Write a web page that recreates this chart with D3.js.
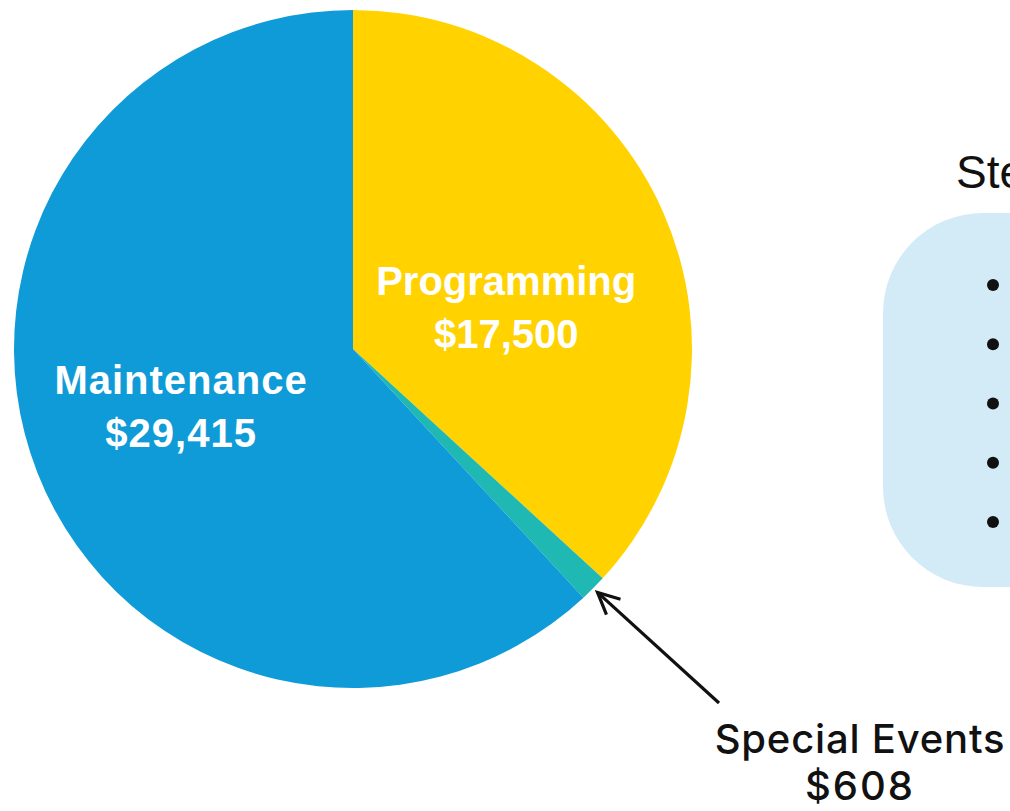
<!DOCTYPE html>
<html>
<head>
<meta charset="utf-8">
<script src="https://cdn.jsdelivr.net/npm/d3@7"></script>
<style>
  body { margin: 0; background: #fff; overflow: hidden; }
  svg { display: block; }
</style>
</head>
<body>
<div id="chart"></div>
<script>
// budget slices, clockwise from 12 o'clock
const categories = ['Programming', 'Special Events', 'Maintenance'];
const amounts = [17500, 608, 29415];
const sliceColors = ['#FFD200', '#1FB8B2', '#0F9BD7'];
const bullets = ['', '', '', '', ''];
const panelTitle = 'Stewardship';

const width = 1010, height = 811;
const cx = 353, cy = 349, r = 339;

const svg = d3.select('#chart').append('svg')
  .attr('width', width)
  .attr('height', height);

const data = categories.map((c, i) => ({ name: c, value: amounts[i], color: sliceColors[i] }));

const pie = d3.pie().sort(null).value(d => d.value);
const arcs = pie(data);
const arc = d3.arc().innerRadius(0).outerRadius(r);
const labelArc = d3.arc().innerRadius(175).outerRadius(175);
const fmt = d3.format('$,');

const g = svg.append('g').attr('transform', `translate(${cx},${cy})`);

g.selectAll('path.slice')
  .data(arcs)
  .enter().append('path')
  .attr('class', 'slice')
  .attr('d', arc)
  .attr('fill', d => d.data.color);

// white labels inside the two large slices
const nudge = { 'Programming': [-7, 28], 'Maintenance': [-9, -7] };
arcs.filter(d => nudge[d.data.name]).forEach(d => {
  const c = labelArc.centroid(d);
  const x = c[0] + nudge[d.data.name][0];
  const y = c[1] + nudge[d.data.name][1];
  const t = g.append('text')
    .attr('text-anchor', 'middle')
    .attr('fill', '#fff')
    .style('font-family', '"Liberation Sans", Arial, sans-serif')
    .style('font-weight', 700)
    .style('font-size', '40px')
    .style('letter-spacing', d.data.name === 'Maintenance' ? '1px' : '0px');
  t.append('tspan').attr('x', x).attr('y', y - 12).text(d.data.name);
  t.append('tspan').attr('x', x).attr('y', y + 41).text(fmt(d.data.value));
});

// callout for the thin slice
const small = arcs[1];
const mid = (small.startAngle + small.endAngle) / 2;
const tip = [Math.sin(mid) * (r + 6), -Math.cos(mid) * (r + 6)];
const lx = 507, ly = 404;           // label anchor relative to centre
const from = [lx - 141, ly - 50];

g.append('line')
  .attr('x1', from[0]).attr('y1', from[1])
  .attr('x2', tip[0]).attr('y2', tip[1])
  .attr('stroke', '#111').attr('stroke-width', 3.2);

const ang = Math.atan2(tip[1] - from[1], tip[0] - from[0]);
const head = 24, spread = Math.PI / 7;
const h1 = [tip[0] - head * Math.cos(ang - spread), tip[1] - head * Math.sin(ang - spread)];
const h2 = [tip[0] - head * Math.cos(ang + spread), tip[1] - head * Math.sin(ang + spread)];
g.append('path')
  .attr('d', `M${h1}L${tip}L${h2}`)
  .attr('fill', 'none')
  .attr('stroke', '#111')
  .attr('stroke-width', 3.2)
  .attr('stroke-linejoin', 'miter');

const st = g.append('text')
  .attr('text-anchor', 'middle')
  .attr('fill', '#111')
  .style('font-family', 'Inter, sans-serif')
  .style('font-weight', 500)
  .style('font-size', '40px')
  .style('letter-spacing', '0.8px');
st.append('tspan').attr('x', lx).attr('y', ly).text(small.data.name);
st.append('tspan').attr('x', lx).attr('y', ly + 47).style('letter-spacing', '2px').text(fmt(small.data.value));

// side panel (runs off the right edge)
svg.append('text')
  .attr('x', 956).attr('y', 188)
  .attr('fill', '#111')
  .style('font-family', '"Liberation Sans", Arial, sans-serif')
  .style('font-size', '46px')
  .text(panelTitle);

svg.append('rect')
  .attr('x', 883).attr('y', 213)
  .attr('width', 400).attr('height', 374)
  .attr('rx', 100).attr('ry', 100)
  .attr('fill', '#D3EBF6');

const by = d3.scalePoint().domain(d3.range(bullets.length)).range([285, 522]);
svg.selectAll('circle.bullet')
  .data(bullets)
  .enter().append('circle')
  .attr('class', 'bullet')
  .attr('cx', 993)
  .attr('cy', (d, i) => by(i))
  .attr('r', 6)
  .attr('fill', '#111');
</script>
</body>
</html>
